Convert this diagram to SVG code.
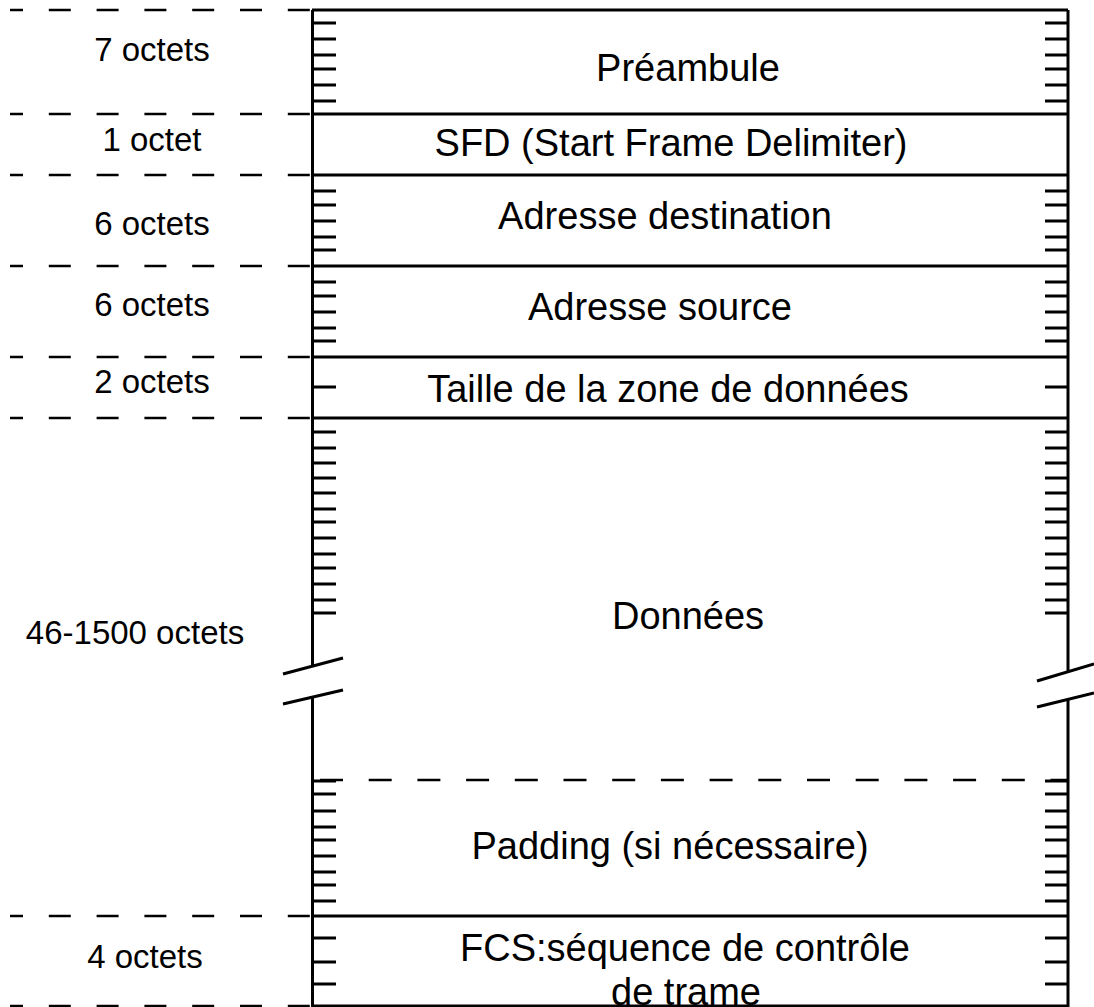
<svg xmlns="http://www.w3.org/2000/svg" width="1094" height="1007" viewBox="0 0 1094 1007">
<style>
.ln{stroke:#000;stroke-width:3;fill:none}
.dl{stroke:#000;stroke-width:2.5;fill:none;stroke-dasharray:22 25.8;stroke-dashoffset:9}
.dd{stroke:#000;stroke-width:2.5;fill:none;stroke-dasharray:23 25.7}
.tk{stroke:#000;stroke-width:3}
.main{font-family:"Liberation Sans",Arial,sans-serif;font-size:38px;fill:#000;text-anchor:middle}
.lbl{font-family:"Liberation Sans",Arial,sans-serif;font-size:33px;fill:#000;text-anchor:middle}
</style>
<rect width="1094" height="1007" fill="#fff"/>
<g id="connectors">
<path class="dl" d="M10 10H312M10 114H312M10 175H312M10 266H312M10 357H312M10 418H312M10 916H312M10 1006H312"/>
</g>
<g id="frame">
<path class="ln" d="M312 10H1068M312 114H1068M312 175H1068M312 266H1068M312 357H1068M312 418H1068M312 916H1068M312 1006H1068"/>
<path class="ln" d="M312.5 10V666M312.5 697V1007M1068 10V672M1068 699V1007"/>
<path class="ln" d="M283 674L343 658M283 704L343 690M1037 681L1094 664M1037 707L1094 693"/>
<path class="dd" d="M320 780H1068"/>
</g>
<g id="ticks" class="tk">
<path d="M313 23H336M313 39H336M313 55H336M313 69H336M313 85H336M313 101H336M1045 23H1068M1045 39H1068M1045 55H1068M1045 69H1068M1045 85H1068M1045 101H1068"/>
<path d="M313 191H336M313 205H336M313 221H336M313 237H336M313 250H336M1045 191H1068M1045 205H1068M1045 221H1068M1045 237H1068M1045 250H1068"/>
<path d="M313 282H336M313 296H336M313 312H336M313 328H336M313 341H336M1045 282H1068M1045 296H1068M1045 312H1068M1045 328H1068M1045 341H1068"/>
<path d="M313 387H336M1045 387H1068"/>
<path d="M313 432H336M313 448H336M313 463H336M313 478H336M313 493H336M313 509H336M313 522H336M313 538H336M313 554H336M313 568H336M313 584H336M313 600H336M313 613H336M1045 432H1068M1045 448H1068M1045 463H1068M1045 478H1068M1045 493H1068M1045 509H1068M1045 522H1068M1045 538H1068M1045 554H1068M1045 568H1068M1045 584H1068M1045 600H1068M1045 613H1068"/>
<path d="M313 781H336M313 794H336M313 811H336M313 827H336M313 840H336M313 856H336M313 872H336M313 885H336M313 901H336M1045 781H1068M1045 794H1068M1045 811H1068M1045 827H1068M1045 840H1068M1045 856H1068M1045 872H1068M1045 885H1068M1045 901H1068"/>
<path d="M313 938H336M313 962H336M313 984H336M1045 938H1068M1045 962H1068M1045 984H1068"/>
</g>
<g id="preambule"><text class="main" x="688" y="81">Préambule</text><text class="lbl" x="152" y="61">7 octets</text></g>
<g id="sfd"><text class="main" x="671" y="156">SFD (Start Frame Delimiter)</text><text class="lbl" x="152" y="151">1 octet</text></g>
<g id="dest"><text class="main" x="665" y="229">Adresse destination</text><text class="lbl" x="152" y="235">6 octets</text></g>
<g id="source"><text class="main" x="660" y="320">Adresse source</text><text class="lbl" x="152" y="316">6 octets</text></g>
<g id="taille"><text class="main" x="668" y="402">Taille de la zone de données</text><text class="lbl" x="152" y="393">2 octets</text></g>
<g id="donnees"><text class="main" x="688" y="629">Données</text><text class="lbl" x="135" y="644">46-1500 octets</text></g>
<g id="padding"><text class="main" x="670" y="859">Padding (si nécessaire)</text></g>
<g id="fcs"><text class="main" x="685" y="961">FCS:séquence de contrôle</text><text class="main" x="686" y="1005">de trame</text><text class="lbl" x="145" y="968">4 octets</text></g>
</svg>
